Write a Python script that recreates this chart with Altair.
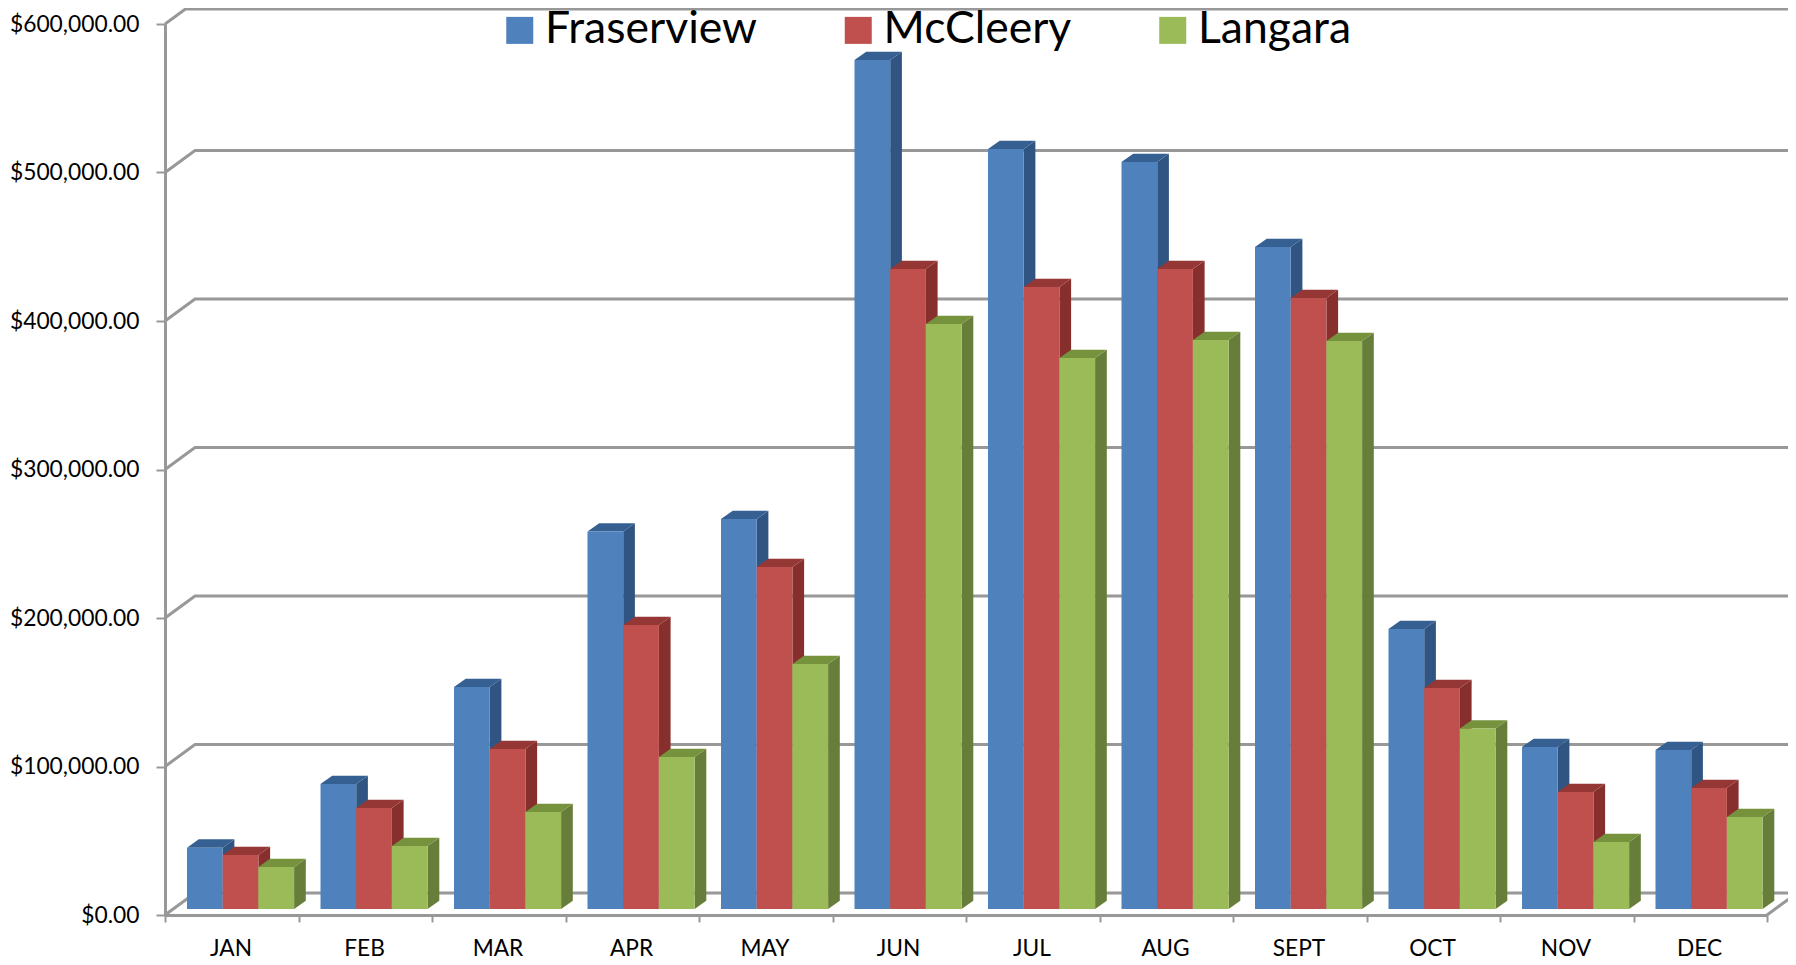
import json
import altair as alt
import pandas as pd

MONTHS = ["JAN", "FEB", "MAR", "APR", "MAY", "JUN", "JUL", "AUG", "SEPT", "OCT", "NOV", "DEC"]
SERIES = ["Fraserview", "McCleery", "Langara"]
FRASERVIEW = [41300, 84200, 149500, 254200, 262600, 571700, 511800, 503000, 445800, 188600, 109100, 107100]
MCCLEERY = [36400, 68000, 107700, 191200, 230300, 431000, 418900, 431000, 411400, 148800, 78800, 81500]
LANGARA = [28300, 42400, 65300, 102400, 165000, 393900, 371000, 383200, 382500, 121500, 45100, 62000]
TICKS = [0, 100000, 200000, 300000, 400000, 500000, 600000]

FRONT = ["#4F81BD", "#C0504D", "#9BBB59"]
SIDE = ["#315583", "#872F2D", "#677E3A"]
TOP = ["#366092", "#953735", "#76923C"]
GRID = "#989898"
FONT = "Lato"

W, H = 1602, 891
px_x = 12 / W
px_y = 600000 / H


def X(px):
    return px * px_x


def Y(px):
    return px * px_y


# perspective of the wall, and of each bar
wall_dx, wall_dy = X(30), Y(22)
bar_dx, bar_dy = X(11.7), Y(8.3)
base = Y(6)
gap = X(22)
bw = X(35.7)

# wall grid polylines
grid_rows = []
for t in TICKS[:-1]:
    grid_rows += [
        {"g": t, "o": 0, "x": 0, "y": t},
        {"g": t, "o": 1, "x": wall_dx, "y": t + wall_dy},
        {"g": t, "o": 2, "x": 12 + wall_dx, "y": t + wall_dy},
    ]
# the top wall line sits just inside the page margin
top_y = Y(15)
grid_rows += [
    {"g": 600000, "o": 0, "x": 0, "y": 600000},
    {"g": 600000, "o": 1, "x": wall_dx * 15 / 22, "y": 600000 + top_y},
    {"g": 600000, "o": 2, "x": 12 + wall_dx, "y": 600000 + top_y},
]
grid_rows += [
    {"g": -1, "o": 0, "x": 12, "y": 0},
    {"g": -1, "o": 1, "x": 12 + wall_dx, "y": wall_dy},
]
grid_df = pd.DataFrame(grid_rows)

x_scale = alt.Scale(domain=[0, 12], nice=False, zero=False)
y_scale = alt.Scale(domain=[0, 600000], nice=False, zero=False)
color_scale = alt.Scale(domain=SERIES, range=FRONT)

x_axis = alt.Axis(
    title=None, values=list(range(13)), grid=False,
    domainColor=GRID, domainWidth=3, tickColor=GRID, tickWidth=2, tickSize=7,
    labelExpr=f"({json.dumps(MONTHS)})[datum.value] || ''",
    labelOffset=65.5, labelFont=FONT, labelFontSize=22.7, labelColor="#000000",
    labelPadding=15, labelFlush=False, labelBound=False, labelOverlap=False,
    labelBaseline="top",
)
y_axis = alt.Axis(
    title=None, values=TICKS, grid=False, format="$,.2f",
    domainColor=GRID, domainWidth=3, tickColor=GRID, tickWidth=2, tickSize=9,
    labelFont=FONT, labelFontSize=22.8, labelColor="#000000", labelPadding=17,
    labelOverlap=False, labelBound=False, labelFlush=False,
)

layers = [
    alt.Chart(grid_df).mark_line(color=GRID, strokeWidth=3).encode(
        x=alt.X("x:Q", scale=x_scale, axis=x_axis),
        y=alt.Y("y:Q", scale=y_scale, axis=y_axis),
        detail="g:N",
        order="o:Q",
    )
]

for s, (name, values) in enumerate(zip(SERIES, [FRASERVIEW, MCCLEERY, LANGARA])):
    front, side, top = [], [], []
    for i, v in enumerate(values):
        x0 = i + gap + s * bw
        x1 = x0 + bw
        yt = v + base
        front.append({"series": name, "x0": x0, "x1": x1, "y0": base, "y1": yt})
        side += [
            {"b": i, "x": x1, "lo": base, "hi": yt},
            {"b": i, "x": x1 + bar_dx, "lo": base + bar_dy, "hi": yt + bar_dy},
        ]
        top += [
            {"b": i, "y": yt, "x0": x0, "x1": x1},
            {"b": i, "y": yt + bar_dy, "x0": x0 + bar_dx, "x1": x1 + bar_dx},
        ]
    layers.append(
        alt.Chart(pd.DataFrame(side)).mark_area(color=SIDE[s], interpolate="linear").encode(
            x=alt.X("x:Q", scale=x_scale),
            y=alt.Y("lo:Q", scale=y_scale, stack=None),
            y2="hi:Q",
            detail="b:N",
        )
    )
    layers.append(
        alt.Chart(pd.DataFrame(top)).mark_area(color=TOP[s], orient="horizontal", interpolate="linear").encode(
            y=alt.Y("y:Q", scale=y_scale),
            x=alt.X("x0:Q", scale=x_scale, stack=None),
            x2="x1:Q",
            detail="b:N",
        )
    )
    layers.append(
        alt.Chart(pd.DataFrame(front)).mark_rect().encode(
            x=alt.X("x0:Q", scale=x_scale),
            x2="x1:Q",
            y=alt.Y("y0:Q", scale=y_scale),
            y2="y1:Q",
            color=alt.Color(
                "series:N",
                scale=color_scale,
                legend=alt.Legend(
                    title=None, orient="none", legendX=332.5, legendY=-16,
                    direction="horizontal", columns=3, symbolType="square",
                    symbolSize=729, symbolStrokeWidth=0, labelFont=FONT,
                    labelFontSize=44.5, labelColor="#000000", labelOffset=3,
                    columnPadding=78.5, labelLimit=400,
                ),
            ),
        )
    )

chart = (
    alt.layer(*layers)
    .properties(
        width=W,
        height=H,
        autosize=alt.AutoSizeParams(type="none"),
        padding={"left": 157, "top": 16, "right": 21, "bottom": 49},
        background="#ffffff",
    )
    .configure_view(stroke=None)
)

chart.save("out.html", embed_options={"renderer": "svg", "actions": False})
